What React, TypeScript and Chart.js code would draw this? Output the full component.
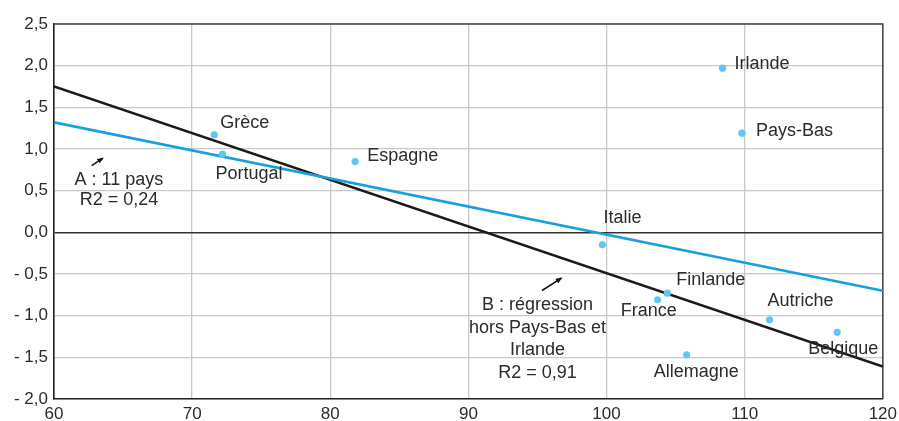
import React, { useEffect, useRef } from "react";
import { Chart, registerables } from "chart.js";

Chart.register(...registerables);

// ---- Data ----
const countries = ["Irlande", "Pays-Bas", "Grèce", "Portugal", "Espagne", "Italie", "Finlande", "France", "Autriche", "Belgique", "Allemagne"];
const xValues = [108.4, 109.8, 71.6, 72.2, 81.8, 99.7, 104.4, 103.7, 111.8, 116.7, 105.8];
const yValues = [1.97, 1.19, 1.17, 0.94, 0.85, -0.15, -0.73, -0.81, -1.05, -1.2, -1.47];

const lineX = [60, 120];
const regA = [1.32, -0.7];
const regB = [1.75, -1.61];

const annotA = ["A : 11 pays", "R2 = 0,24"];
const annotB = ["B : régression", "hors Pays-Bas et", "Irlande", "R2 = 0,91"];

// ---- Presentation config ----
const FONT = "'Liberation Sans', Arial, Helvetica, sans-serif";
const TEXT = "#2b2b2b";
const labelOffsets: Record<string, [number, number]> = {
  "Irlande": [12, -4],
  "Pays-Bas": [14, -2],
  "Grèce": [6, -12],
  "Portugal": [-7, 20],
  "Espagne": [12, -5],
  "Italie": [1, -27],
  "Finlande": [9, -13],
  "France": [-37, 11],
  "Autriche": [-2, -19],
  "Belgique": [-29, 17],
  "Allemagne": [-33, 17],
};
const annotAnchorA = { x: 64.7, y: 0.63, spacing: 20 };
const annotAnchorB = { x: 95.0, y: -0.878, spacing: 22.5 };
const arrowA = { x1: 62.73, y1: 0.8, x2: 63.53, y2: 0.89 };
const arrowB = { x1: 95.33, y1: -0.698, x2: 96.73, y2: -0.549 };

const fmtY = (v: number) => {
  const s = Math.abs(v).toFixed(1).replace(".", ",");
  return v < -1e-9 ? "- " + s : s;
};

const overlayPlugin = {
  id: "overlay",
  beforeDatasetsDraw(chart: any) {
    const { ctx, chartArea } = chart;
    ctx.save();
    ctx.strokeStyle = "#444";
    ctx.lineWidth = 1.5;
    ctx.beginPath();
    ctx.moveTo(chartArea.left, chartArea.top);
    ctx.lineTo(chartArea.right, chartArea.top);
    ctx.lineTo(chartArea.right, chartArea.bottom);
    ctx.stroke();
    ctx.restore();
  },
  afterDatasetsDraw(chart: any) {
    const { ctx } = chart;
    const xs = chart.scales.x;
    const ys = chart.scales.y;
    ctx.save();
    ctx.font = `18px ${FONT}`;
    ctx.fillStyle = TEXT;
    ctx.textBaseline = "middle";
    ctx.textAlign = "left";
    const meta = chart.getDatasetMeta(0);
    meta.data.forEach((pt: any, i: number) => {
      const name = countries[i];
      const off = labelOffsets[name] || [8, -8];
      ctx.fillText(name, pt.x + off[0], pt.y + off[1]);
    });
    ctx.textAlign = "center";
    const drawBlock = (lines: string[], a: any) => {
      const px = xs.getPixelForValue(a.x);
      const py = ys.getPixelForValue(a.y);
      lines.forEach((l, i) => ctx.fillText(l, px, py + i * a.spacing));
    };
    drawBlock(annotA, annotAnchorA);
    drawBlock(annotB, annotAnchorB);
    const drawArrow = (a: any) => {
      const x1 = xs.getPixelForValue(a.x1);
      const y1 = ys.getPixelForValue(a.y1);
      const x2 = xs.getPixelForValue(a.x2);
      const y2 = ys.getPixelForValue(a.y2);
      ctx.strokeStyle = "#111";
      ctx.fillStyle = "#111";
      ctx.lineWidth = 1.5;
      ctx.beginPath();
      ctx.moveTo(x1, y1);
      ctx.lineTo(x2, y2);
      ctx.stroke();
      const ang = Math.atan2(y2 - y1, x2 - x1);
      const len = 6;
      ctx.beginPath();
      ctx.moveTo(x2 + 1, y2 - 0.5);
      ctx.lineTo(x2 - len * Math.cos(ang - 0.45), y2 - len * Math.sin(ang - 0.45));
      ctx.lineTo(x2 - len * Math.cos(ang + 0.45), y2 - len * Math.sin(ang + 0.45));
      ctx.closePath();
      ctx.fill();
    };
    drawArrow(arrowA);
    drawArrow(arrowB);
    ctx.restore();
  },
};

export default function App() {
  const ref = useRef<HTMLCanvasElement | null>(null);
  useEffect(() => {
    if (!ref.current) return;
    const chart = new Chart(ref.current, {
      type: "scatter",
      data: {
        datasets: [
          {
            label: "Pays",
            data: xValues.map((x, i) => ({ x, y: yValues[i] })),
            backgroundColor: "#62c6ef",
            borderWidth: 0,
            pointRadius: 3.6,
          },
          {
            label: "A",
            data: lineX.map((x, i) => ({ x, y: regA[i] })),
            showLine: true,
            borderColor: "#17a0dd",
            borderWidth: 2.6,
            pointRadius: 0,
          },
          {
            label: "B",
            data: lineX.map((x, i) => ({ x, y: regB[i] })),
            showLine: true,
            borderColor: "#1a1a1a",
            borderWidth: 2.6,
            pointRadius: 0,
          },
        ],
      } as any,
      options: {
        animation: false,
        responsive: false,
        maintainAspectRatio: false,
        layout: { padding: { left: 0, top: 24, right: 16, bottom: 0 } },
        plugins: { legend: { display: false }, tooltip: { enabled: false } },
        scales: {
          x: {
            type: "linear",
            min: 60,
            max: 120,
            afterFit: (s: any) => { s.height = 22; },
            ticks: { stepSize: 10, color: TEXT, padding: 2, font: { family: FONT, size: 17, lineHeight: 1.6 } },
            grid: { color: "#c9c9c9", lineWidth: 1.3, drawTicks: false },
            border: { color: "#222", width: 1.6 },
          },
          y: {
            type: "linear",
            min: -2,
            max: 2.5,
            afterFit: (s: any) => { s.width = 54; },
            ticks: {
              stepSize: 0.5,
              color: TEXT,
              padding: 6,
              font: { family: FONT, size: 17 },
              callback: (v: any) => fmtY(Number(v)),
            },
            grid: {
              color: (c: any) => (Math.abs(c.tick.value) < 1e-9 ? "#333" : "#c9c9c9"),
              lineWidth: (c: any) => (Math.abs(c.tick.value) < 1e-9 ? 1.5 : 1.3),
              drawTicks: false,
            },
            border: { color: "#222", width: 1.6 },
          },
        },
      } as any,
      plugins: [overlayPlugin],
    });
    return () => chart.destroy();
  }, []);
  return (
    <div style={{ position: "absolute", left: 0, top: 0, width: 899, height: 421, background: "#fff" }}>
      <canvas ref={ref} width={899} height={421} style={{ width: 899, height: 421, display: "block" }} />
    </div>
  );
}
